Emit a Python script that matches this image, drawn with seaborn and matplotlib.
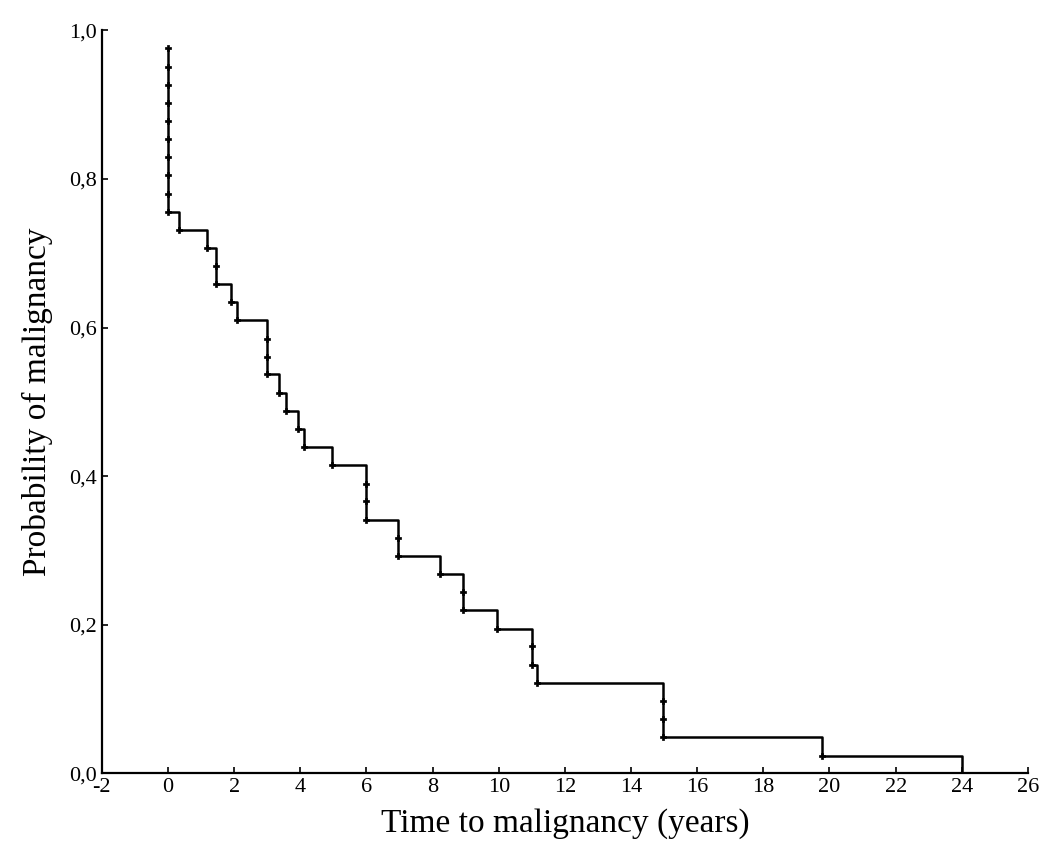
import matplotlib
matplotlib.use("Agg")
import matplotlib.pyplot as plt
import seaborn as sns
import pandas as pd
from matplotlib.ticker import FuncFormatter, MultipleLocator

# Event times (years) and survival probability after each event
times = [0.0, 0.0, 0.0, 0.0, 0.0, 0.0, 0.0, 0.0, 0.0, 0.0,
         0.33, 1.18, 1.44, 1.44, 1.9, 2.1, 3.0, 3.0, 3.0, 3.36,
         3.56, 3.93, 4.1, 4.97, 5.98, 5.98, 5.98, 6.94, 6.94, 8.22,
         8.93, 8.93, 9.96, 11.0, 11.0, 11.17, 14.98, 14.98, 14.98, 19.76,
         24.0]
prob = [0.976, 0.951, 0.927, 0.902, 0.878, 0.854, 0.829, 0.805, 0.780, 0.756,
        0.732, 0.707, 0.683, 0.659, 0.634, 0.610, 0.585, 0.561, 0.537, 0.512,
        0.488, 0.463, 0.439, 0.415, 0.390, 0.366, 0.341, 0.317, 0.293, 0.268,
        0.244, 0.220, 0.195, 0.171, 0.146, 0.122, 0.098, 0.073, 0.049, 0.024,
        0.0]

df = pd.DataFrame({"time": times, "prob": prob})

sns.set_theme(style="ticks")
plt.rcParams["font.family"] = ["Liberation Serif", "DejaVu Serif"]
plt.rcParams["text.color"] = "black"
plt.rcParams["axes.labelcolor"] = "black"

fig = plt.figure(figsize=(10.5, 8.68), dpi=100)
ax = fig.add_axes([0.097, 0.109, 0.882, 0.856])

sns.lineplot(data=df, x="time", y="prob", estimator=None, sort=False,
             drawstyle="steps-post", color="black", linewidth=1.8, ax=ax)
sns.scatterplot(data=df[df["prob"] > 0], x="time", y="prob", marker="P",
                s=22, color="black", edgecolor="black", linewidth=0.5, ax=ax, zorder=3)

ax.set_xlim(-2, 26)
ax.set_ylim(0, 1.0)
ax.xaxis.set_major_locator(MultipleLocator(2))
ax.yaxis.set_major_locator(MultipleLocator(0.2))
ax.yaxis.set_major_formatter(FuncFormatter(lambda v, p: f"{v:.1f}".replace(".", ",")))
ax.xaxis.set_major_formatter(FuncFormatter(lambda v, p: f"{int(round(v))}"))
ax.tick_params(direction="in", length=4, width=1.2, labelsize=16, colors="black")
for side in ["top", "right"]:
    ax.spines[side].set_visible(False)
for side in ["left", "bottom"]:
    ax.spines[side].set_linewidth(1.6)
    ax.spines[side].set_color("black")

ax.set_xlabel("Time to malignancy (years)", fontsize=24, labelpad=8, color="black")
ax.set_ylabel("Probability of malignancy", fontsize=24, labelpad=12, color="black")

fig.savefig("out.png", dpi=100, facecolor="white")
